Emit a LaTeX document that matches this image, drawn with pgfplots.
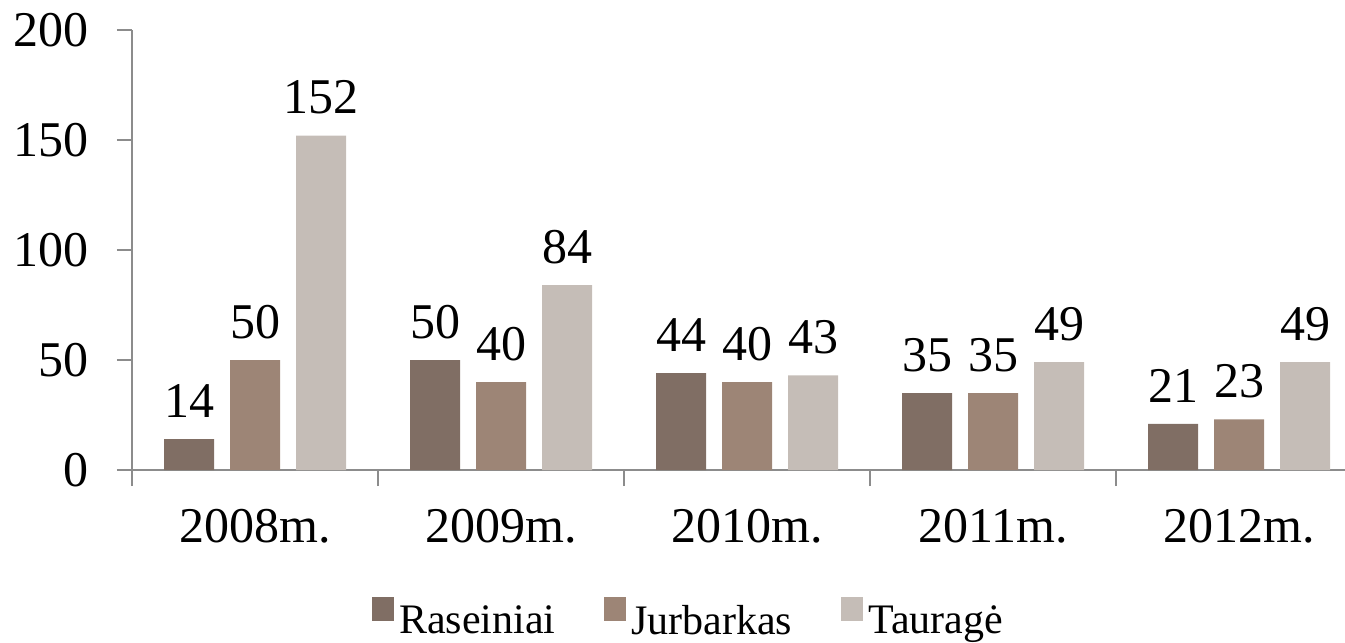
\documentclass[border=0pt]{standalone}
\usepackage{fontspec}
\setmainfont{Liberation Serif}
\usepackage{pgfplots}
\pgfplotsset{compat=1.18}
\definecolor{cR}{RGB}{128,110,100}
\definecolor{cJ}{RGB}{157,133,118}
\definecolor{cT}{RGB}{197,189,183}
\definecolor{axgray}{RGB}{140,140,140}
\begin{document}
\begin{tikzpicture}
\begin{axis}[
  name=ax,
  scale only axis,
  width=606.5pt, height=220pt,
  xmin=0, xmax=4.93,
  ymin=0, ymax=200,
  axis x line=bottom, axis y line=left,
  axis line style={-, draw=axgray, line width=0.8pt},
  ybar=8pt, bar width=25pt,
  xtick={0.5,1.5,2.5,3.5,4.5},
  xticklabels={2008m.,2009m.,2010m.,2011m.,2012m.},
  minor xtick={0,1,2,3,4},
  major x tick style={draw=none},
  minor x tick style={draw=axgray, line width=0.8pt},
  minor tick length=8pt,
  ytick={0,50,100,150,200},
  y tick style={draw=axgray, line width=0.8pt},
  major tick length=7.5pt,
  tick align=outside,
  /pgf/number format/assume math mode=true,
  ticklabel style={font=\fontsize{25}{30}\selectfont, inner sep=0pt},
  yticklabel style={anchor=east, xshift=-14pt},
  xticklabel style={anchor=north, yshift=-12pt},
  nodes near coords,
  every node near coord/.append style={font=\fontsize{25}{30}\selectfont, inner sep=0pt, anchor=south, yshift=10.5pt, text=black},
  legend style={draw=none, at={(0.46,-0.34)}, anchor=center, legend columns=-1,
    font=\fontsize{21}{25}\selectfont,
    /tikz/every even column/.append style={column sep=22pt},
    nodes={inner sep=2.5pt}},
  legend image code/.code={\fill[#1] (0pt,0pt) rectangle (11pt,12pt);},
]
\addplot[fill=cR, draw=none] coordinates {(0.5,14) (1.5,50) (2.5,44) (3.5,35) (4.5,21)};
\addplot[fill=cJ, draw=none] coordinates {(0.5,50) (1.5,40) (2.5,40) (3.5,35) (4.5,23)};
\addplot[fill=cT, draw=none] coordinates {(0.5,152) (1.5,84) (2.5,43) (3.5,49) (4.5,49)};
\legend{Raseiniai, Jurbarkas, Tauragė}
\end{axis}
\pgfresetboundingbox
\path[use as bounding box] ([xshift=-66pt,yshift=-86.5pt]ax.south west) rectangle ([yshift=15pt]ax.north east);
\end{tikzpicture}
\end{document}
